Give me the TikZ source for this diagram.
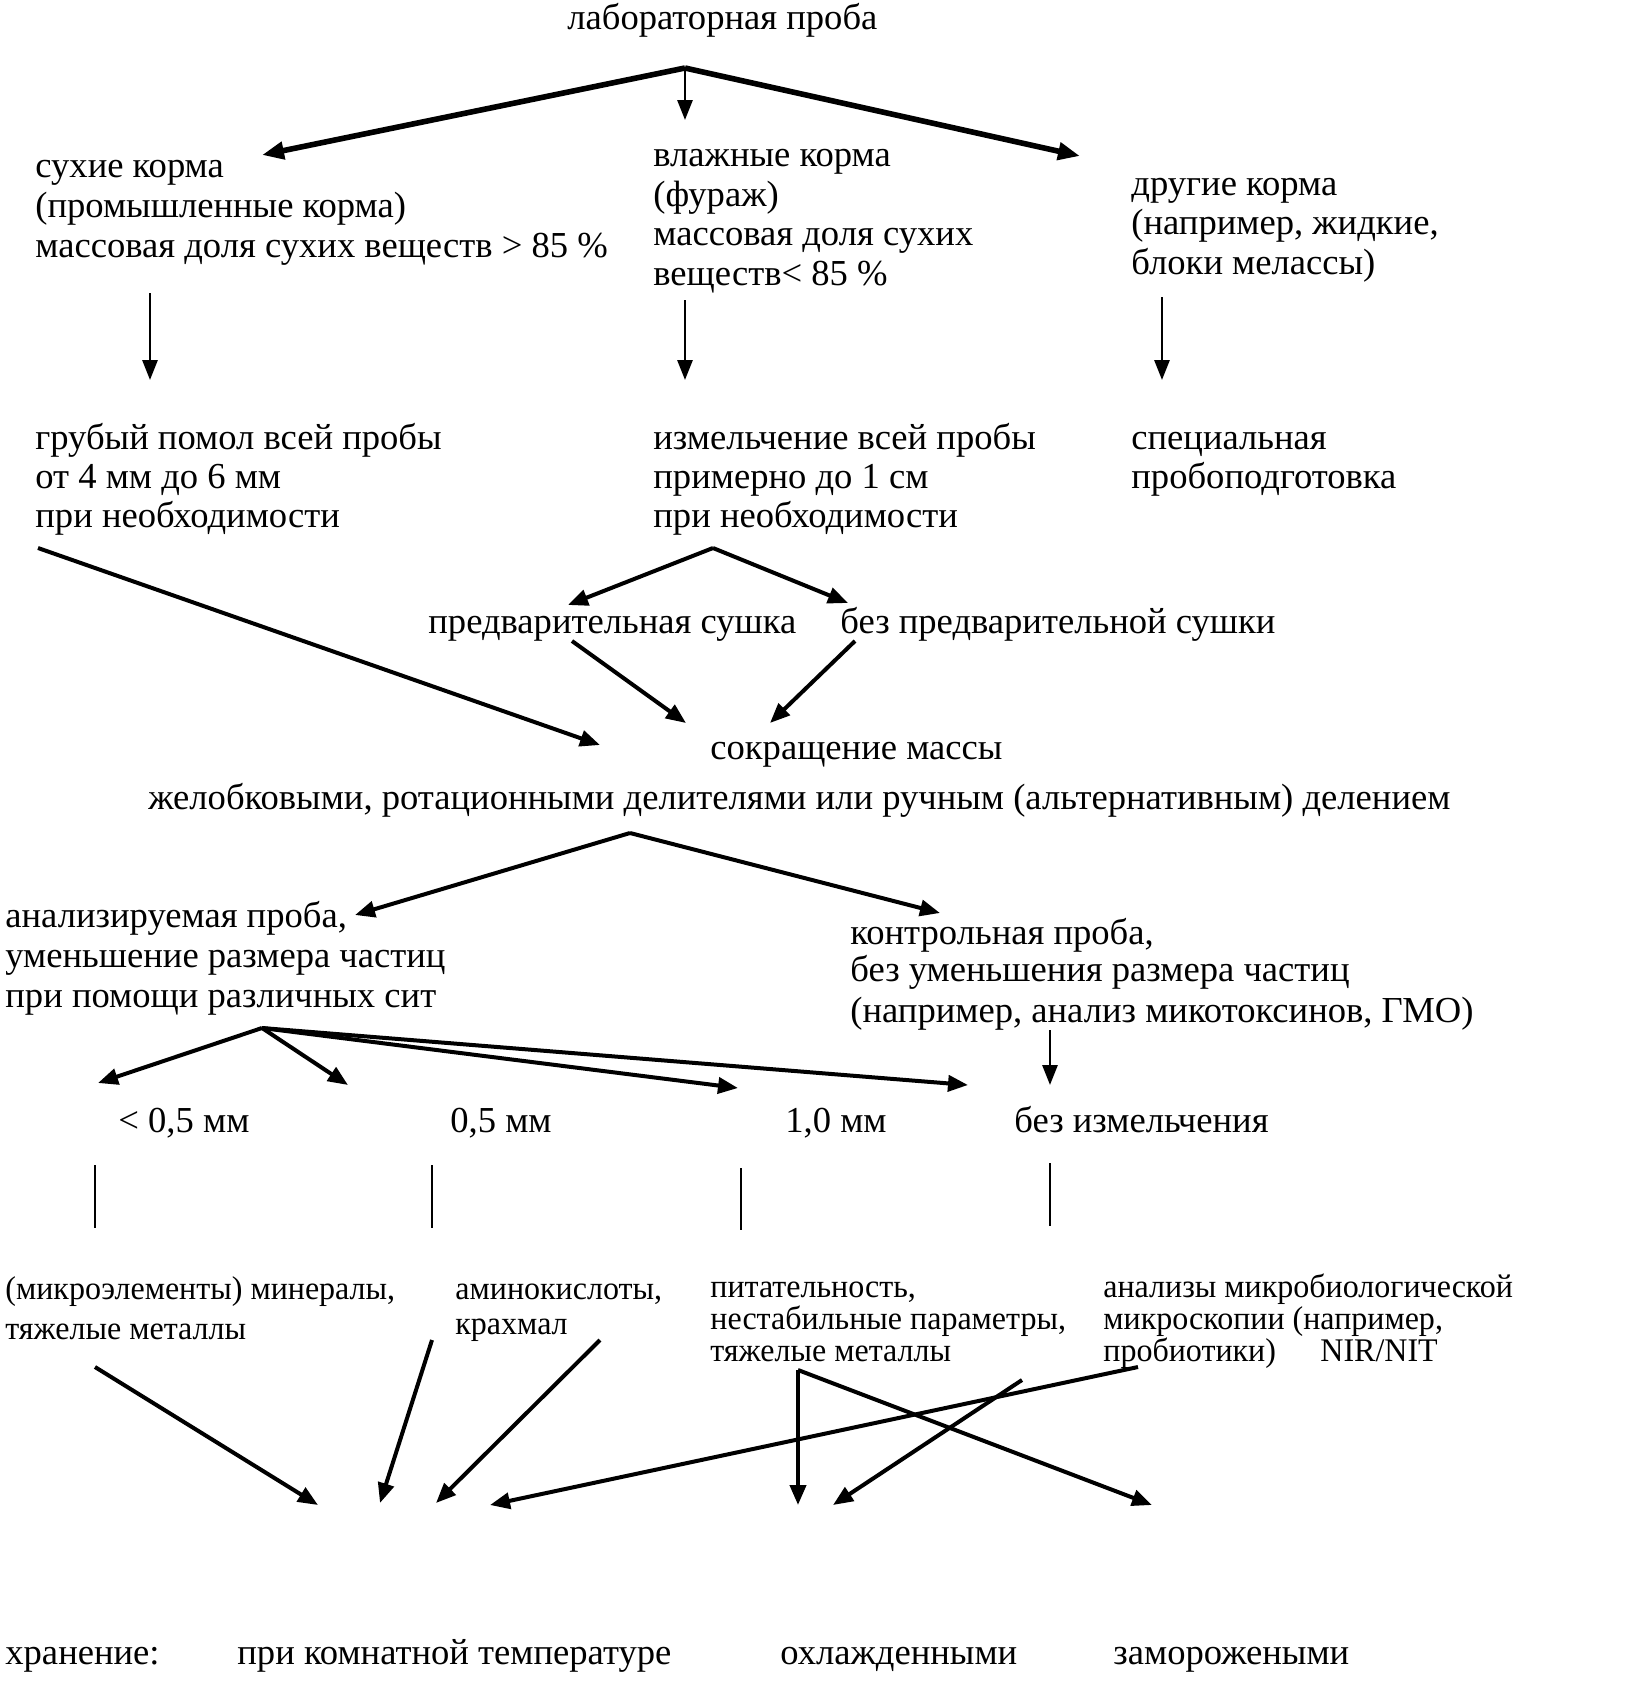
\documentclass[tikz,border=0pt]{standalone}
\usepackage{fontspec}
\setmainfont{Liberation Serif}
\newfontfamily\narrowserif[FakeStretch=0.97]{Liberation Serif}
\usetikzlibrary{arrows.meta}
\tikzset{
  txt/.style={anchor=base west, inner sep=0pt, font=\fontsize{18.3}{20}\selectfont},
  ntxt/.style={anchor=base west, inner sep=0pt, font=\narrowserif\fontsize{16.5}{17}\selectfont},
  bigarr/.style={-{Triangle[length=11pt,width=8.5pt]}, line width=2.8pt},
  arr/.style={-{Triangle[length=10pt,width=8pt]}, line width=2pt},
  varr/.style={-{Triangle[length=10pt,width=7.5pt]}, line width=1.4pt},
  vline/.style={line width=0.8pt},
}
\begin{document}
\begin{tikzpicture}[x=0.5pt,y=-0.5pt]
\useasboundingbox[fill=white] (0,0) rectangle (1631,1688);
% texts
\node[txt] (lab) at (567,29) {лабораторная проба};
\node[txt] (dry1) at (35,177) {сухие корма};
\node[txt] (dry2) at (35,217) {(промышленные корма)};
\node[txt] (dry3) at (35,257) {массовая доля сухих веществ > 85 \%};
\node[txt] (wet1) at (653,166) {влажные корма};
\node[txt] (wet2) at (653,206) {(фураж)};
\node[txt] (wet3) at (653,245) {массовая доля сухих};
\node[txt] (wet4) at (653,285) {веществ< 85 \%};
\node[txt] (oth1) at (1131,195) {другие корма};
\node[txt] (oth2) at (1131,234) {(например, жидкие,};
\node[txt] (oth3) at (1131,274) {блоки мелассы)};
\node[txt] (crs1) at (35,449) {грубый помол всей пробы};
\node[txt] (crs2) at (35,488) {от 4 мм до 6 мм};
\node[txt] (crs3) at (35,527) {при необходимости};
\node[txt] (grd1) at (653,449) {измельчение всей пробы};
\node[txt] (grd2) at (653,488) {примерно до 1 см};
\node[txt] (grd3) at (653,527) {при необходимости};
\node[txt] (spc1) at (1131,449) {специальная};
\node[txt] (spc2) at (1131,488) {пробоподготовка};
\node[txt] (predry) at (428,633) {предварительная сушка};
\node[txt] (nodry) at (840,633) {без предварительной сушки};
\node[txt] (red1) at (710,759) {сокращение массы};
\node[txt] (red2) at (148,809) {желобковыми, ротационными делителями или ручным (альтернативным) делением};
\node[txt] (ana1) at (5,927) {анализируемая проба,};
\node[txt] (ana2) at (5,967) {уменьшение размера частиц};
\node[txt] (ana3) at (5,1007) {при помощи различных сит};
\node[txt] (ctl1) at (850,944) {контрольная проба,};
\node[txt] (ctl2) at (850,981) {без уменьшения размера частиц};
\node[txt] (ctl3) at (850,1022) {(например, анализ микотоксинов, ГМО)};
\node[txt] (s1) at (118,1132) {< 0,5 мм};
\node[txt] (s2) at (450,1132) {0,5 мм};
\node[txt] (s3) at (785,1132) {1,0 мм};
\node[txt] (s4) at (1014,1132) {без измельчения};
\node[ntxt] (b1a) at (5,1299) {(микроэлементы) минералы,};
\node[ntxt] (b1b) at (5,1339) {тяжелые металлы};
\node[ntxt] (b2a) at (455,1299) {аминокислоты,};
\node[ntxt] (b2b) at (455,1334) {крахмал};
\node[ntxt] (b3a) at (710,1297) {питательность,};
\node[ntxt] (b3b) at (710,1329) {нестабильные параметры,};
\node[ntxt] (b3c) at (710,1361) {тяжелые металлы};
\node[ntxt] (b4a) at (1103,1297) {анализы микробиологической};
\node[ntxt] (b4b) at (1103,1329) {микроскопии (например,};
\node[ntxt] (b4c) at (1103,1361) {пробиотики)};
\node[ntxt] (nir) at (1320,1361) {NIR/NIT};
\node[txt] (stor) at (5,1664) {хранение:};
\node[txt] (room) at (237,1664) {при комнатной температуре};
\node[txt] (cool) at (780,1664) {охлажденными};
\node[txt] (froz) at (1113,1664) {заморожеными};
% connector points
\coordinate (o1) at (685,68);
\coordinate (dryT) at (262,155);
\coordinate (wetT) at (685,120);
\coordinate (othT) at (1080,156);
\coordinate (dryB) at (150,293);
\coordinate (crsT) at (150,380);
\coordinate (wetB) at (685,300);
\coordinate (grdT) at (685,380);
\coordinate (othB) at (1162,297);
\coordinate (spcT) at (1162,380);
\coordinate (crsB) at (38,548);
\coordinate (redL) at (600,745);
\coordinate (o2) at (713,548);
\coordinate (predryT) at (568,605);
\coordinate (nodryT) at (848,603);
\coordinate (predryB) at (572,641);
\coordinate (redM) at (686,723);
\coordinate (nodryB) at (855,641);
\coordinate (redR) at (770,723);
\coordinate (o3) at (630,833);
\coordinate (anaT) at (355,915);
\coordinate (ctlT) at (940,913);
\coordinate (ctlB) at (1050,1030);
\coordinate (s4T) at (1050,1085);
\coordinate (o4) at (262,1028);
\coordinate (s1T) at (98,1083);
\coordinate (s2T) at (348,1085);
\coordinate (s3T) at (738,1088);
\coordinate (s4L) at (968,1085);
\coordinate (l1a) at (95,1165);  \coordinate (l1b) at (95,1228);
\coordinate (l2a) at (432,1165); \coordinate (l2b) at (432,1228);
\coordinate (l3a) at (741,1168); \coordinate (l3b) at (741,1230);
\coordinate (l4a) at (1050,1163); \coordinate (l4b) at (1050,1226);
\coordinate (b1B) at (95,1367);
\coordinate (roomT1) at (318,1505);
\coordinate (b2B1) at (432,1340);
\coordinate (roomT2) at (380,1503);
\coordinate (b2B2) at (600,1340);
\coordinate (roomT3) at (436,1503);
\coordinate (b4B1) at (1138,1367);
\coordinate (roomT4) at (490,1505);
\coordinate (b3B) at (798,1370);
\coordinate (coolT1) at (798,1505);
\coordinate (frozT) at (1152,1505);
\coordinate (b4B2) at (1022,1380);
\coordinate (coolT2) at (833,1505);
% connectors
\draw[bigarr] (o1) -- (dryT);
\draw[varr] (o1) -- (wetT);
\draw[bigarr] (o1) -- (othT);
\draw[varr] (dryB) -- (crsT);
\draw[varr] (wetB) -- (grdT);
\draw[varr] (othB) -- (spcT);
\draw[arr] (crsB) -- (redL);
\draw[arr] (o2) -- (predryT);
\draw[arr] (o2) -- (nodryT);
\draw[arr] (predryB) -- (redM);
\draw[arr] (nodryB) -- (redR);
\draw[arr] (o3) -- (anaT);
\draw[arr] (o3) -- (ctlT);
\draw[varr] (ctlB) -- (s4T);
\draw[arr] (o4) -- (s1T);
\draw[arr] (o4) -- (s2T);
\draw[arr] (o4) -- (s3T);
\draw[arr] (o4) -- (s4L);
\draw[vline] (l1a) -- (l1b);
\draw[vline] (l2a) -- (l2b);
\draw[vline] (l3a) -- (l3b);
\draw[vline] (l4a) -- (l4b);
\draw[arr] (b1B) -- (roomT1);
\draw[arr] (b2B1) -- (roomT2);
\draw[arr] (b2B2) -- (roomT3);
\draw[arr] (b4B1) -- (roomT4);
\draw[arr] (b3B) -- (coolT1);
\draw[arr] (b3B) -- (frozT);
\draw[arr] (b4B2) -- (coolT2);
\end{tikzpicture}
\end{document}
